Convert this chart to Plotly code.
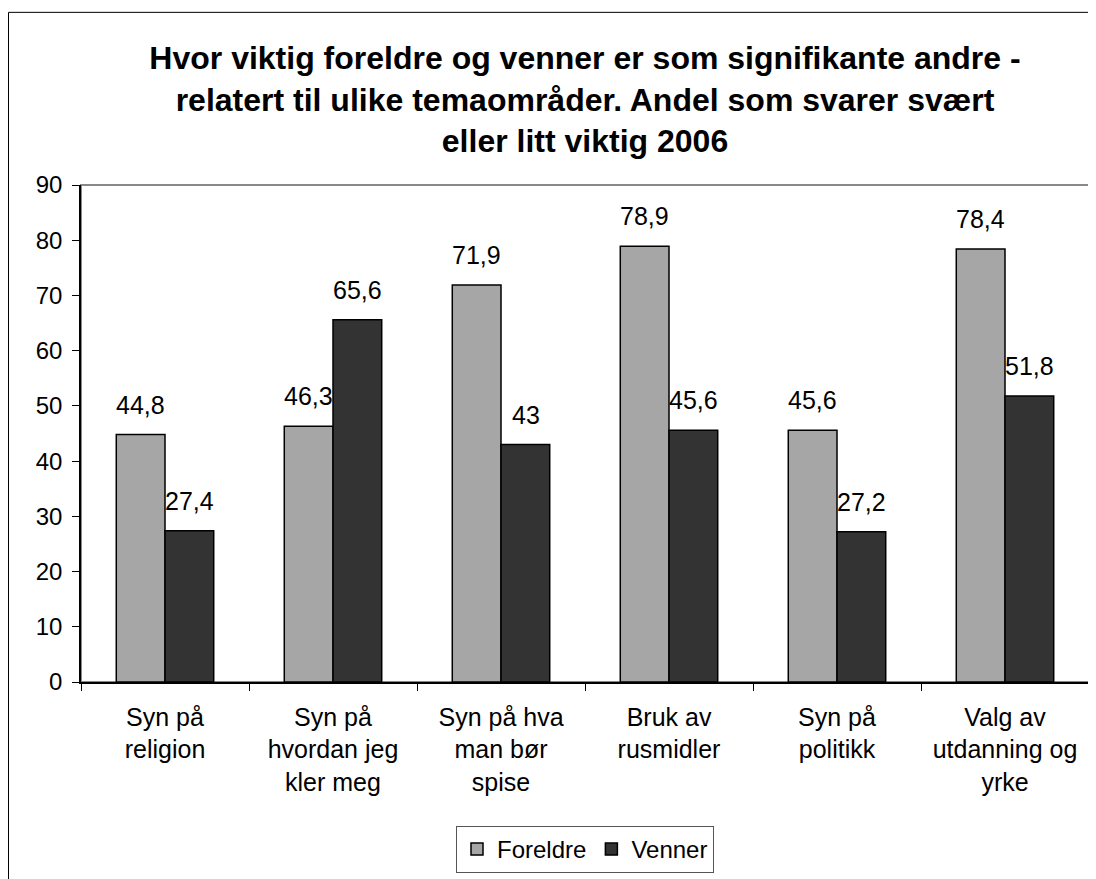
import plotly.graph_objects as go

# data
categories = ["Syn på<br>religion", "Syn på<br>hvordan jeg<br>kler meg", "Syn på hva<br>man bør<br>spise",
              "Bruk av<br>rusmidler", "Syn på<br>politikk", "Valg av<br>utdanning og<br>yrke"]
foreldre = [44.8, 46.3, 71.9, 78.9, 45.6, 78.4]
venner = [27.4, 65.6, 43, 45.6, 27.2, 51.8]

# the page body has an 8px margin, so the figure is laid out 8px smaller
W, H = 1088, 871
L, R, T, B = 73, 7, 177, 196
pw, ph = W - L - R, H - T - B
font = "Liberation Sans, Arial, Helvetica, sans-serif"

fig = go.Figure()
fig.add_trace(go.Bar(x=categories, y=foreldre, name="Foreldre",
                     marker=dict(color="#a6a6a6", line=dict(color="black", width=1.5))))
fig.add_trace(go.Bar(x=categories, y=venner, name="Venner",
                     marker=dict(color="#333333", line=dict(color="black", width=1.5))))

def fmt(v):
    return ("%g" % v).replace(".", ",")

# value labels above the bars
for vals, shift in ((foreldre, -24.5), (venner, 24.5)):
    for c, v in zip(categories, vals):
        fig.add_annotation(x=c, y=v, text=fmt(v), showarrow=False, xshift=shift,
                           yanchor="bottom", yshift=14, font=dict(size=25, color="black"))

# plot area border (gray top/right)
fig.add_shape(type="rect", xref="paper", yref="paper", x0=0, x1=1, y0=0, y1=1,
              line=dict(color="#888888", width=2), layer="below")
# outer chart border
fig.add_shape(type="rect", xref="paper", yref="paper",
              x0=(0.5 - L) / pw, x1=(W + 10 - L) / pw, y0=(H - B - H - 10) / ph, y1=(H - B - 4) / ph,
              line=dict(color="black", width=1))

fig.update_layout(
    width=W, height=H,
    margin=dict(l=L, r=R, t=T, b=B),
    paper_bgcolor="white", plot_bgcolor="white",
    font=dict(family=font, size=24, color="black"),
    title=dict(text="<b>Hvor viktig foreldre og venner er som signifikante andre -<br>"
                    "relatert til ulike temaområder. Andel som svarer svært<br>"
                    "eller litt viktig 2006</b>",
               x=0.5, xanchor="center", xref="paper", y=1 - 61 / H, yanchor="middle",
               font=dict(size=32)),
    barmode="group", bargap=0.42, bargroupgap=0,
    showlegend=True,
    legend=dict(orientation="h", x=0.5, xanchor="center", y=(H - B - 865) / ph, yanchor="bottom",
                bordercolor="#555555", borderwidth=1, font=dict(size=24),
                itemwidth=30, tracegroupgap=0),
)
fig.update_xaxes(showline=True, linecolor="black", linewidth=1.5, ticks="outside", tickson="boundaries",
                 ticklen=7, tickcolor="black", showgrid=False, ticklabelstandoff=12,
                 tickfont=dict(size=25), automargin=False)
fig.update_yaxes(range=[0, 90], dtick=10, showline=True, linecolor="black", linewidth=1.5,
                 ticks="outside", ticklen=7, tickcolor="black", showgrid=False, zeroline=False,
                 ticklabelstandoff=5, tickfont=dict(size=24), automargin=False)

fig.write_html("out.html")
